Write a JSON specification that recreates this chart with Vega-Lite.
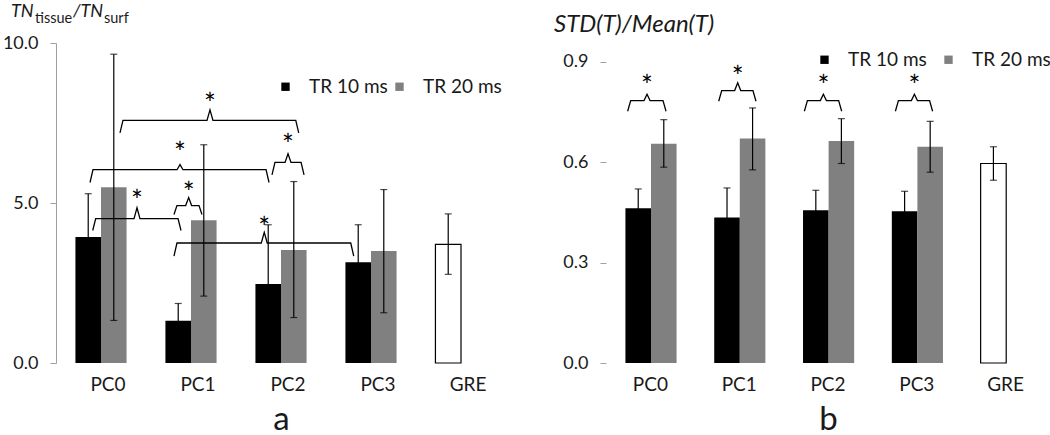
{
  "$schema": "https://vega.github.io/schema/vega-lite/v6.json",
  "padding": {"left": 2, "top": 3, "right": 0, "bottom": 0},
  "spacing": 48,
  "config": {
    "font": "Lato",
    "view": {"stroke": null},
    "axis": {"labelFont": "Lato", "labelFontSize": 18, "labelColor": "#1a1a1a", "titleFont": "Lato", "titleColor": "#1a1a1a", "grid": false},
    "axisX": {"labelFontSize": 19},
    "axisY": {"tickSize": 6, "tickColor": "#a0a0a0", "domainColor": "#a0a0a0", "labelPadding": 12, "format": ".1f"},
    "text": {"font": "Lato", "color": "#1a1a1a"}
  },
  "resolve": {"scale": {"color": "independent"}, "legend": {"color": "independent"}},
  "datasets": {
    "leftBars": [
      {"cat": "PC0", "series": "TR 10 ms", "mean": 3.94, "lo": 2.59, "hi": 5.29},
      {"cat": "PC0", "series": "TR 20 ms", "mean": 5.49, "lo": 1.33, "hi": 9.65},
      {"cat": "PC1", "series": "TR 10 ms", "mean": 1.32, "lo": 0.78, "hi": 1.86},
      {"cat": "PC1", "series": "TR 20 ms", "mean": 4.46, "lo": 2.09, "hi": 6.82},
      {"cat": "PC2", "series": "TR 10 ms", "mean": 2.47, "lo": 0.62, "hi": 4.32},
      {"cat": "PC2", "series": "TR 20 ms", "mean": 3.53, "lo": 1.42, "hi": 5.67},
      {"cat": "PC3", "series": "TR 10 ms", "mean": 3.15, "lo": 1.98, "hi": 4.32},
      {"cat": "PC3", "series": "TR 20 ms", "mean": 3.50, "lo": 1.57, "hi": 5.42}
    ],
    "leftGre": [{"cat": "GRE", "mean": 3.71, "lo": 2.77, "hi": 4.66}],
    "leftBrackets": [
      {"b": 1, "k": 0, "x": 1.211, "y": 7.19}, {"b": 1, "k": 1, "x": 1.244, "y": 7.58}, {"b": 1, "k": 2, "x": 2.178, "y": 7.58}, {"b": 1, "k": 3, "x": 2.211, "y": 7.91}, {"b": 1, "k": 4, "x": 2.244, "y": 7.58}, {"b": 1, "k": 5, "x": 3.164, "y": 7.58}, {"b": 1, "k": 6, "x": 3.197, "y": 7.19},
      {"b": 2, "k": 0, "x": 0.878, "y": 5.64}, {"b": 2, "k": 1, "x": 0.911, "y": 6.04}, {"b": 2, "k": 2, "x": 1.845, "y": 6.04}, {"b": 2, "k": 3, "x": 1.878, "y": 6.20}, {"b": 2, "k": 4, "x": 1.911, "y": 6.04}, {"b": 2, "k": 5, "x": 2.834, "y": 6.04}, {"b": 2, "k": 6, "x": 2.867, "y": 5.64},
      {"b": 3, "k": 0, "x": 2.900, "y": 5.88}, {"b": 3, "k": 1, "x": 2.933, "y": 6.27}, {"b": 3, "k": 2, "x": 3.045, "y": 6.27}, {"b": 3, "k": 3, "x": 3.078, "y": 6.54}, {"b": 3, "k": 4, "x": 3.111, "y": 6.27}, {"b": 3, "k": 5, "x": 3.223, "y": 6.27}, {"b": 3, "k": 6, "x": 3.256, "y": 5.88},
      {"b": 4, "k": 0, "x": 0.908, "y": 4.14}, {"b": 4, "k": 1, "x": 0.941, "y": 4.51}, {"b": 4, "k": 2, "x": 1.367, "y": 4.51}, {"b": 4, "k": 3, "x": 1.400, "y": 4.85}, {"b": 4, "k": 4, "x": 1.433, "y": 4.51}, {"b": 4, "k": 5, "x": 1.856, "y": 4.51}, {"b": 4, "k": 6, "x": 1.889, "y": 4.14},
      {"b": 5, "k": 0, "x": 1.811, "y": 4.64}, {"b": 5, "k": 1, "x": 1.844, "y": 4.92}, {"b": 5, "k": 2, "x": 1.941, "y": 4.92}, {"b": 5, "k": 3, "x": 1.974, "y": 5.17}, {"b": 5, "k": 4, "x": 2.007, "y": 4.92}, {"b": 5, "k": 5, "x": 2.089, "y": 4.92}, {"b": 5, "k": 6, "x": 2.122, "y": 4.64},
      {"b": 6, "k": 0, "x": 1.811, "y": 3.34}, {"b": 6, "k": 1, "x": 1.844, "y": 3.75}, {"b": 6, "k": 2, "x": 2.781, "y": 3.75}, {"b": 6, "k": 3, "x": 2.814, "y": 4.08}, {"b": 6, "k": 4, "x": 2.847, "y": 3.75}, {"b": 6, "k": 5, "x": 3.775, "y": 3.75}, {"b": 6, "k": 6, "x": 3.808, "y": 3.34}
    ],
    "leftStars": [
      {"x": 2.211, "y": 8.28}, {"x": 1.878, "y": 6.76}, {"x": 3.078, "y": 7.01},
      {"x": 1.400, "y": 5.26}, {"x": 1.974, "y": 5.51}, {"x": 2.814, "y": 4.40}
    ],
    "rightBars": [
      {"cat": "PC0", "series": "TR 10 ms", "mean": 0.462, "lo": 0.404, "hi": 0.520},
      {"cat": "PC0", "series": "TR 20 ms", "mean": 0.655, "lo": 0.585, "hi": 0.727},
      {"cat": "PC1", "series": "TR 10 ms", "mean": 0.435, "lo": 0.347, "hi": 0.523},
      {"cat": "PC1", "series": "TR 20 ms", "mean": 0.671, "lo": 0.577, "hi": 0.762},
      {"cat": "PC2", "series": "TR 10 ms", "mean": 0.456, "lo": 0.396, "hi": 0.516},
      {"cat": "PC2", "series": "TR 20 ms", "mean": 0.663, "lo": 0.596, "hi": 0.730},
      {"cat": "PC3", "series": "TR 10 ms", "mean": 0.453, "lo": 0.393, "hi": 0.513},
      {"cat": "PC3", "series": "TR 20 ms", "mean": 0.646, "lo": 0.570, "hi": 0.722}
    ],
    "rightGre": [{"cat": "GRE", "mean": 0.596, "lo": 0.546, "hi": 0.646}],
    "rightBrackets": [
      {"b": 1, "k": 0, "x": 0.744, "y": 0.752}, {"b": 1, "k": 1, "x": 0.778, "y": 0.784}, {"b": 1, "k": 2, "x": 0.928, "y": 0.784}, {"b": 1, "k": 3, "x": 0.962, "y": 0.803}, {"b": 1, "k": 4, "x": 0.996, "y": 0.784}, {"b": 1, "k": 5, "x": 1.142, "y": 0.784}, {"b": 1, "k": 6, "x": 1.176, "y": 0.752},
      {"b": 2, "k": 0, "x": 1.769, "y": 0.782}, {"b": 2, "k": 1, "x": 1.803, "y": 0.814}, {"b": 2, "k": 2, "x": 1.949, "y": 0.814}, {"b": 2, "k": 3, "x": 1.983, "y": 0.837}, {"b": 2, "k": 4, "x": 2.017, "y": 0.814}, {"b": 2, "k": 5, "x": 2.155, "y": 0.814}, {"b": 2, "k": 6, "x": 2.189, "y": 0.782},
      {"b": 3, "k": 0, "x": 2.734, "y": 0.752}, {"b": 3, "k": 1, "x": 2.768, "y": 0.784}, {"b": 3, "k": 2, "x": 2.914, "y": 0.784}, {"b": 3, "k": 3, "x": 2.948, "y": 0.803}, {"b": 3, "k": 4, "x": 2.982, "y": 0.784}, {"b": 3, "k": 5, "x": 3.120, "y": 0.784}, {"b": 3, "k": 6, "x": 3.154, "y": 0.752},
      {"b": 4, "k": 0, "x": 3.759, "y": 0.752}, {"b": 4, "k": 1, "x": 3.793, "y": 0.784}, {"b": 4, "k": 2, "x": 3.939, "y": 0.784}, {"b": 4, "k": 3, "x": 3.973, "y": 0.803}, {"b": 4, "k": 4, "x": 4.007, "y": 0.784}, {"b": 4, "k": 5, "x": 4.144, "y": 0.784}, {"b": 4, "k": 6, "x": 4.178, "y": 0.752}
    ],
    "rightStars": [
      {"x": 0.962, "y": 0.844}, {"x": 1.983, "y": 0.872}, {"x": 2.948, "y": 0.844}, {"x": 3.973, "y": 0.844}
    ]
  },
  "hconcat": [
    {
      "width": 450,
      "height": 320,
      "resolve": {"scale": {"x": "independent"}, "axis": {"x": "independent"}},
      "layer": [
        {
          "data": {"name": "leftBars"},
          "encoding": {
            "x": {"field": "cat", "type": "nominal", "sort": null, "scale": {"domain": ["PC0", "PC1", "PC2", "PC3", "GRE"], "paddingInner": 0, "paddingOuter": 0},
                  "axis": {"title": "a", "labelAngle": 0, "domain": false, "ticks": false, "labelPadding": 12, "labelOffset": 7, "titleFontSize": 33, "titleFontWeight": "normal", "titlePadding": 9}},
            "xOffset": {"field": "series", "type": "nominal", "scale": {"domain": ["TR 10 ms", "TR 20 ms"], "paddingInner": 0, "paddingOuter": 0.76}}
          },
          "layer": [
            {
              "mark": {"type": "bar"},
              "encoding": {
                "y": {"field": "mean", "type": "quantitative", "title": null, "scale": {"domain": [0, 10], "nice": false}, "axis": {"values": [0, 5, 10]}},
                "color": {"field": "series", "type": "nominal", "scale": {"domain": ["TR 10 ms", "TR 20 ms"], "range": ["#000000", "#808080"]},
                          "legend": {"orient": "none", "legendX": 220, "legendY": 34, "direction": "horizontal", "title": null, "symbolType": "square", "symbolSize": 70, "symbolStrokeWidth": 0, "labelFontSize": 19, "labelFont": "Lato", "labelColor": "#1a1a1a", "labelOffset": 14, "columnPadding": 2, "padding": 0}}
              }
            },
            {"mark": {"type": "rule", "color": "#000000", "strokeWidth": 1.2}, "encoding": {"y": {"field": "lo", "type": "quantitative", "title": null}, "y2": {"field": "hi"}}},
            {"mark": {"type": "tick", "color": "#000000", "thickness": 1.2, "size": 7}, "encoding": {"y": {"field": "hi", "type": "quantitative", "title": null}}},
            {"mark": {"type": "tick", "color": "#000000", "thickness": 1.2, "size": 7}, "encoding": {"y": {"field": "lo", "type": "quantitative", "title": null}}}
          ]
        },
        {
          "data": {"name": "leftGre"},
          "encoding": {
            "x": {"field": "cat", "type": "nominal", "sort": null, "scale": {"domain": ["PC0", "PC1", "PC2", "PC3", "GRE"], "paddingInner": 0, "paddingOuter": 0}, "axis": null},
            "xOffset": {"datum": "TR 10 ms", "type": "nominal"}
          },
          "layer": [
            {"mark": {"type": "bar", "fill": "#ffffff", "stroke": "#000000", "strokeWidth": 1.2}, "encoding": {"y": {"field": "mean", "type": "quantitative", "title": null}}},
            {"mark": {"type": "rule", "color": "#000000", "strokeWidth": 1.2}, "encoding": {"y": {"field": "lo", "type": "quantitative", "title": null}, "y2": {"field": "hi"}}},
            {"mark": {"type": "tick", "color": "#000000", "thickness": 1.2, "size": 7}, "encoding": {"y": {"field": "hi", "type": "quantitative", "title": null}}},
            {"mark": {"type": "tick", "color": "#000000", "thickness": 1.2, "size": 7}, "encoding": {"y": {"field": "lo", "type": "quantitative", "title": null}}}
          ]
        },
        {
          "data": {"name": "leftBrackets"},
          "mark": {"type": "line", "color": "#000000", "strokeWidth": 1.3},
          "encoding": {
            "x": {"field": "x", "type": "quantitative", "scale": {"domain": [0.5, 5.5], "nice": false, "zero": false}, "axis": null},
            "y": {"field": "y", "type": "quantitative", "title": null},
            "detail": {"field": "b"},
            "order": {"field": "k"}
          }
        },
        {
          "data": {"name": "leftStars"},
          "mark": {"type": "text", "text": "*", "fontSize": 28, "baseline": "middle", "dy": 8, "color": "#000000"},
          "encoding": {
            "x": {"field": "x", "type": "quantitative", "scale": {"domain": [0.5, 5.5], "nice": false, "zero": false}, "axis": null},
            "y": {"field": "y", "type": "quantitative", "title": null}
          }
        },
        {
          "mark": {"type": "rule", "color": "#404040", "strokeWidth": 1.5},
          "encoding": {
            "x": {"datum": 0.422, "type": "quantitative", "scale": {"domain": [0.5, 5.5], "nice": false, "zero": false}, "axis": null},
            "x2": {"datum": 5.222},
            "y": {"datum": 0, "type": "quantitative"}
          }
        },
        {
          "data": {"values": [{"t": "TN"}]},
          "mark": {"type": "text", "fontStyle": "italic", "fontSize": 18, "align": "left", "baseline": "alphabetic", "dx": -45, "dy": -26},
          "encoding": {"text": {"field": "t"}, "x": {"datum": 0.5, "type": "quantitative", "scale": {"domain": [0.5, 5.5], "nice": false, "zero": false}, "axis": null}, "y": {"datum": 10, "type": "quantitative"}}
        },
        {
          "data": {"values": [{"t": "tissue"}]},
          "mark": {"type": "text", "fontSize": 14.5, "align": "left", "baseline": "alphabetic", "dx": -21, "dy": -20},
          "encoding": {"text": {"field": "t"}, "x": {"datum": 0.5, "type": "quantitative", "scale": {"domain": [0.5, 5.5], "nice": false, "zero": false}, "axis": null}, "y": {"datum": 10, "type": "quantitative"}}
        },
        {
          "data": {"values": [{"t": "/TN"}]},
          "mark": {"type": "text", "fontStyle": "italic", "fontSize": 18, "align": "left", "baseline": "alphabetic", "dx": 17, "dy": -26},
          "encoding": {"text": {"field": "t"}, "x": {"datum": 0.5, "type": "quantitative", "scale": {"domain": [0.5, 5.5], "nice": false, "zero": false}, "axis": null}, "y": {"datum": 10, "type": "quantitative"}}
        },
        {
          "data": {"values": [{"t": "surf"}]},
          "mark": {"type": "text", "fontSize": 14.5, "align": "left", "baseline": "alphabetic", "dx": 48, "dy": -20},
          "encoding": {"text": {"field": "t"}, "x": {"datum": 0.5, "type": "quantitative", "scale": {"domain": [0.5, 5.5], "nice": false, "zero": false}, "axis": null}, "y": {"datum": 10, "type": "quantitative"}}
        }
      ]
    },
    {
      "width": 420,
      "height": 320,
      "resolve": {"scale": {"x": "independent"}, "axis": {"x": "independent"}},
      "layer": [
        {
          "data": {"name": "rightBars"},
          "encoding": {
            "x": {"field": "cat", "type": "nominal", "sort": null, "scale": {"domain": ["PC0", "PC1", "PC2", "PC3", "GRE"], "paddingInner": 0, "paddingOuter": 0, "range": [0, 444]},
                  "axis": {"title": "b", "labelAngle": 0, "domain": false, "ticks": false, "labelPadding": 12, "titleFontSize": 33, "titleFontWeight": "normal", "titlePadding": 9}},
            "xOffset": {"field": "series", "type": "nominal", "scale": {"domain": ["TR 10 ms", "TR 20 ms"], "paddingInner": 0, "paddingOuter": 0.76}}
          },
          "layer": [
            {
              "mark": {"type": "bar"},
              "encoding": {
                "y": {"field": "mean", "type": "quantitative", "title": null, "scale": {"domain": [0, 0.956], "nice": false}, "axis": {"values": [0, 0.3, 0.6, 0.9], "domain": false}},
                "color": {"field": "series", "type": "nominal", "scale": {"domain": ["TR 10 ms", "TR 20 ms"], "range": ["#000000", "#808080"]},
                          "legend": {"orient": "none", "legendX": 209, "legendY": 7, "direction": "horizontal", "title": null, "symbolType": "square", "symbolSize": 70, "symbolStrokeWidth": 0, "labelFontSize": 19, "labelFont": "Lato", "labelColor": "#1a1a1a", "labelOffset": 14, "columnPadding": 12, "padding": 0}}
              }
            },
            {"mark": {"type": "rule", "color": "#000000", "strokeWidth": 1.2}, "encoding": {"y": {"field": "lo", "type": "quantitative", "title": null}, "y2": {"field": "hi"}}},
            {"mark": {"type": "tick", "color": "#000000", "thickness": 1.2, "size": 7}, "encoding": {"y": {"field": "hi", "type": "quantitative", "title": null}}},
            {"mark": {"type": "tick", "color": "#000000", "thickness": 1.2, "size": 7}, "encoding": {"y": {"field": "lo", "type": "quantitative", "title": null}}}
          ]
        },
        {
          "data": {"name": "rightGre"},
          "encoding": {
            "x": {"field": "cat", "type": "nominal", "sort": null, "scale": {"domain": ["PC0", "PC1", "PC2", "PC3", "GRE"], "paddingInner": 0, "paddingOuter": 0, "range": [0, 444]}, "axis": null},
            "xOffset": {"datum": "TR 10 ms", "type": "nominal"}
          },
          "layer": [
            {"mark": {"type": "bar", "fill": "#ffffff", "stroke": "#000000", "strokeWidth": 1.2}, "encoding": {"y": {"field": "mean", "type": "quantitative", "title": null}}},
            {"mark": {"type": "rule", "color": "#000000", "strokeWidth": 1.2}, "encoding": {"y": {"field": "lo", "type": "quantitative", "title": null}, "y2": {"field": "hi"}}},
            {"mark": {"type": "tick", "color": "#000000", "thickness": 1.2, "size": 7}, "encoding": {"y": {"field": "hi", "type": "quantitative", "title": null}}},
            {"mark": {"type": "tick", "color": "#000000", "thickness": 1.2, "size": 7}, "encoding": {"y": {"field": "lo", "type": "quantitative", "title": null}}}
          ]
        },
        {
          "data": {"name": "rightBrackets"},
          "mark": {"type": "line", "color": "#000000", "strokeWidth": 1.3},
          "encoding": {
            "x": {"field": "x", "type": "quantitative", "scale": {"domain": [0.5, 5.5], "nice": false, "zero": false, "range": [0, 444]}, "axis": null},
            "y": {"field": "y", "type": "quantitative", "title": null},
            "detail": {"field": "b"},
            "order": {"field": "k"}
          }
        },
        {
          "data": {"name": "rightStars"},
          "mark": {"type": "text", "text": "*", "fontSize": 28, "baseline": "middle", "dy": 8, "color": "#000000"},
          "encoding": {
            "x": {"field": "x", "type": "quantitative", "scale": {"domain": [0.5, 5.5], "nice": false, "zero": false, "range": [0, 444]}, "axis": null},
            "y": {"field": "y", "type": "quantitative", "title": null}
          }
        },
        {
          "mark": {"type": "rule", "color": "#404040", "strokeWidth": 1.5},
          "encoding": {
            "x": {"datum": 0.437, "type": "quantitative", "scale": {"domain": [0.5, 5.5], "nice": false, "zero": false, "range": [0, 444]}, "axis": null},
            "x2": {"datum": 5.226},
            "y": {"datum": 0, "type": "quantitative"}
          }
        },
        {
          "mark": {"type": "rule", "color": "#a0a0a0", "strokeWidth": 1},
          "encoding": {
            "x": {"datum": 0.5, "type": "quantitative", "scale": {"domain": [0.5, 5.5], "nice": false, "zero": false, "range": [0, 444]}, "axis": null},
            "y": {"datum": 0, "type": "quantitative"},
            "y2": {"datum": 0.9}
          }
        },
        {
          "data": {"values": [{"t": "STD(T)/Mean(T)"}]},
          "mark": {"type": "text", "fontStyle": "italic", "fontSize": 24, "align": "left", "baseline": "alphabetic", "dx": -52, "dy": -11},
          "encoding": {"text": {"field": "t"}, "x": {"datum": 0.5, "type": "quantitative", "scale": {"domain": [0.5, 5.5], "nice": false, "zero": false, "range": [0, 444]}, "axis": null}, "y": {"datum": 0.956, "type": "quantitative"}}
        }
      ]
    }
  ]
}
